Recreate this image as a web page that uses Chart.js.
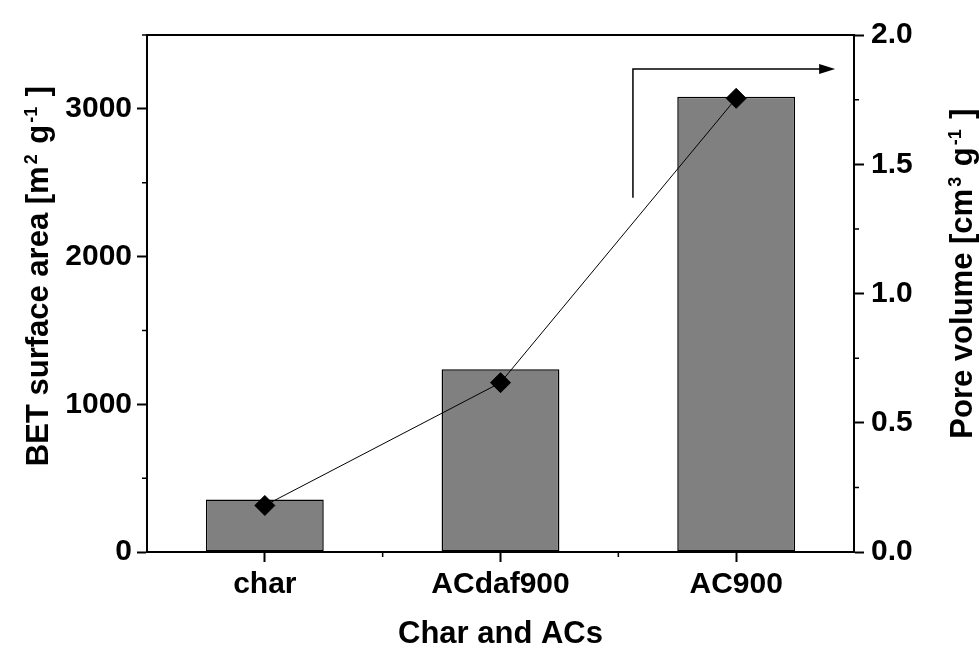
<!DOCTYPE html>
<html lang="en">
<head>
  <meta charset="UTF-8" />
  <title>BET surface area and pore volume</title>
  <script src="https://cdn.jsdelivr.net/npm/chart.js"></script>
  <style>
    html, body { margin: 0; padding: 0; background: #fff; }
    #wrap { width: 979px; height: 648px; }
  </style>
</head>
<body>
  <div id="wrap"><canvas id="chart" width="979" height="648"></canvas></div>

  <script>
    const categories = ['char', 'ACdaf900', 'AC900'];
    const surfaceArea = [355, 1238, 3082];      // m2/g, bars, left axis
    const poreVolume = [0.18, 0.655, 1.755];    // cm3/g, diamonds, right axis
    const areaTicks = [0, 1000, 2000, 3000];
    const volumeTicks = [0.0, 0.5, 1.0, 1.5, 2.0];

    // arrow pointing to the right axis (in data units: category index / pore volume)
    const arrowFrom = { x: 1.562, y: 1.37 };
    const arrowCorner = { x: 1.562, y: 1.868 };
    const arrowTo = { x: 2.42, y: 1.868 };

    const FAMILY = '"Liberation Sans", Arial, sans-serif';
    const tickFont = { family: FAMILY, size: 30, weight: 'bold' };

    // axis titles with superscripts
    const xTitle = [{ t: 'Char and ACs' }];
    const leftTitle = [{ t: 'BET surface area [m' }, { t: '2', sup: true }, { t: ' g' }, { t: '-1', sup: true }, { t: ' ]' }];
    const rightTitle = [{ t: 'Pore volume [cm' }, { t: '3', sup: true }, { t: ' g' }, { t: '-1', sup: true }, { t: ' ]' }];

    function drawRich(ctx, parts, cx, cy, rot) {
      const big = 'bold 31px ' + FAMILY;
      const small = 'bold 18px ' + FAMILY;
      let total = 0;
      const widths = parts.map(p => {
        ctx.font = p.sup ? small : big;
        const w = ctx.measureText(p.t).width + (p.sup ? 4 : 0);
        total += w;
        return w;
      });
      ctx.save();
      ctx.translate(cx, cy);
      ctx.rotate(rot);
      ctx.fillStyle = '#000';
      ctx.textBaseline = 'alphabetic';
      ctx.textAlign = 'left';
      let xx = -total / 2;
      parts.forEach((p, i) => {
        ctx.font = p.sup ? small : big;
        ctx.fillText(p.t, xx + (p.sup ? 2 : 0), p.sup ? 0 : 11);
        xx += widths[i];
      });
      ctx.restore();
    }

    const frameAndTicks = {
      id: 'frameAndTicks',
      afterDraw(chart) {
        const ctx = chart.ctx;
        const a = chart.chartArea;
        const { x, y, y2 } = chart.scales;
        ctx.save();
        ctx.strokeStyle = '#000';
        ctx.lineWidth = 2;
        ctx.beginPath();
        ctx.moveTo(a.left, a.top);
        ctx.lineTo(a.right, a.top);
        ctx.stroke();

        // minor ticks
        ctx.lineWidth = 1.5;
        ctx.beginPath();
        for (let v = 500; v <= 3500; v += 1000) {
          const p = y.getPixelForValue(v);
          ctx.moveTo(a.left, p); ctx.lineTo(a.left - 5, p);
        }
        for (let v = 0.25; v < 2; v += 0.5) {
          const p = y2.getPixelForValue(v);
          ctx.moveTo(a.right, p); ctx.lineTo(a.right + 5, p);
        }
        for (let i = 0; i < categories.length - 1; i++) {
          const p = x.getPixelForValue(i + 0.5);
          ctx.moveTo(p, a.bottom); ctx.lineTo(p, a.bottom + 5);
        }
        ctx.stroke();

        // arrow
        const px = v => x.getPixelForValue(v);
        const py = v => y2.getPixelForValue(v);
        ctx.lineWidth = 1.5;
        ctx.beginPath();
        ctx.moveTo(px(arrowFrom.x), py(arrowFrom.y));
        ctx.lineTo(px(arrowCorner.x), py(arrowCorner.y));
        ctx.lineTo(px(arrowTo.x) - 14, py(arrowTo.y));
        ctx.stroke();
        ctx.fillStyle = '#000';
        ctx.beginPath();
        ctx.moveTo(px(arrowTo.x), py(arrowTo.y));
        ctx.lineTo(px(arrowTo.x) - 16, py(arrowTo.y) - 5);
        ctx.lineTo(px(arrowTo.x) - 16, py(arrowTo.y) + 5);
        ctx.closePath();
        ctx.fill();
        ctx.restore();

        // titles
        const midY = (a.top + a.bottom) / 2;
        drawRich(ctx, xTitle, (a.left + a.right) / 2, 632, 0);
        drawRich(ctx, leftTitle, 37, 276, -Math.PI / 2);
        drawRich(ctx, rightTitle, 961, midY - 20, -Math.PI / 2);
      }
    };

    new Chart(document.getElementById('chart'), {
      type: 'bar',
      data: {
        labels: categories,
        datasets: [
          {
            type: 'line',
            label: 'Pore volume',
            data: poreVolume,
            yAxisID: 'y2',
            borderColor: '#000',
            borderWidth: 1,
            pointStyle: 'rectRot',
            pointRadius: 10,
            pointBackgroundColor: '#000',
            pointBorderColor: '#000',
            pointBorderWidth: 1,
            tension: 0,
            order: 0
          },
          {
            label: 'BET surface area',
            data: surfaceArea,
            yAxisID: 'y',
            backgroundColor: '#808080',
            borderColor: '#000',
            borderWidth: 1.5,
            borderSkipped: false,
            barPercentage: 0.5,
            categoryPercentage: 1,
            order: 1
          }
        ]
      },
      options: {
        responsive: false,
        animation: false,
        layout: { padding: { top: 35, left: 0, right: 0, bottom: 0 } },
        plugins: { legend: { display: false }, tooltip: { enabled: false } },
        scales: {
          x: {
            afterFit: s => { s.height = 96; },
            grid: { offset: false, drawOnChartArea: false, tickLength: 10, tickWidth: 2, tickColor: '#000' },
            border: { display: true, color: '#000', width: 2 },
            ticks: { color: '#000', font: tickFont, padding: 5, maxRotation: 0 }
          },
          y: {
            position: 'left',
            min: 0,
            max: 3500,
            afterFit: s => { s.width = 147; },
            afterBuildTicks: s => { s.ticks = [0, 500, 1000, 1500, 2000, 2500, 3000, 3500].map(v => ({ value: v })); },
            grid: {
              drawOnChartArea: false, tickLength: 10, tickWidth: 2,
              tickColor: c => areaTicks.includes(c.tick.value) ? '#000' : 'rgba(0,0,0,0)'
            },
            border: { display: true, color: '#000', width: 2 },
            ticks: {
              color: '#000', font: tickFont, padding: 5, autoSkip: false,
              callback: v => areaTicks.includes(v) ? String(v) : ''
            }
          },
          y2: {
            position: 'right',
            min: 0,
            max: 2,
            afterFit: s => { s.width = 125; },
            afterBuildTicks: s => { s.ticks = [0, 0.25, 0.5, 0.75, 1, 1.25, 1.5, 1.75, 2].map(v => ({ value: v })); },
            grid: {
              drawOnChartArea: false, tickLength: 10, tickWidth: 2,
              tickColor: c => volumeTicks.includes(c.tick.value) ? '#000' : 'rgba(0,0,0,0)'
            },
            border: { display: true, color: '#000', width: 2 },
            ticks: {
              color: '#000', font: tickFont, padding: 7, autoSkip: false,
              callback: v => volumeTicks.includes(v) ? v.toFixed(1) : ''
            }
          }
        }
      },
      plugins: [frameAndTicks]
    });
  </script>
</body>
</html>
